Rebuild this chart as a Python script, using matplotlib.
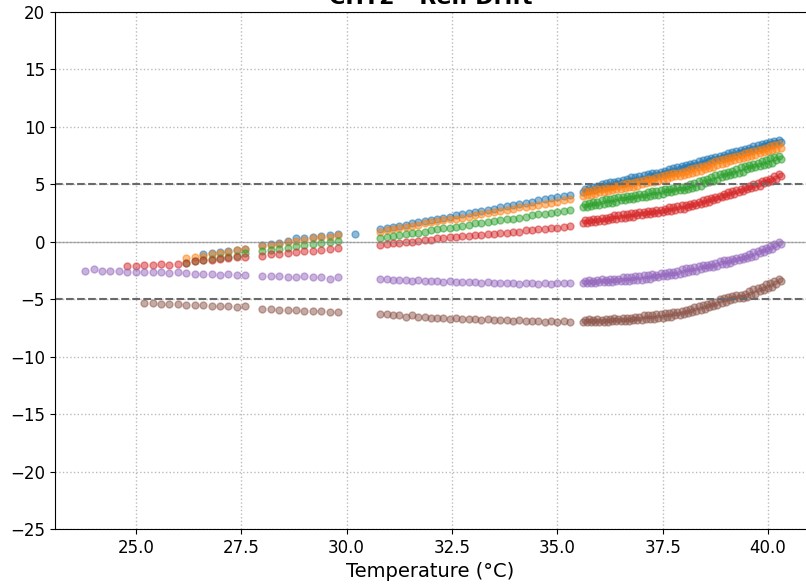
import numpy as np
import matplotlib
matplotlib.use('Agg')
import matplotlib.pyplot as plt

nan = np.nan

# temperatures (deg C): slow ramp, a lone point, then two denser runs
temp_a = [23.8, 24.0, 24.2, 24.4, 24.6, 24.8, 25.0, 25.2, 25.4, 25.6, 25.8, 26.0, 26.2, 26.4, 26.6,
          26.8, 27.0, 27.2, 27.4, 27.6, 28.0, 28.2, 28.4, 28.6, 28.8, 29.0, 29.2, 29.4, 29.6, 29.8]
temp_single = [30.2]
temp_b = [30.8, 30.95, 31.1, 31.25, 31.4, 31.55, 31.7, 31.85, 32.0, 32.15, 32.3, 32.45, 32.6, 32.75,
          32.9, 33.05, 33.2, 33.35, 33.5, 33.65, 33.8, 33.95, 34.1, 34.25, 34.4, 34.55, 34.7, 34.85,
          35.0, 35.15, 35.3]
temp_c = [35.6, 35.7, 35.8, 35.9, 36.0, 36.1, 36.2, 36.3, 36.4, 36.5, 36.6, 36.7, 36.8, 36.9, 37.0,
          37.1, 37.2, 37.3, 37.4, 37.5, 37.6, 37.7, 37.8, 37.9, 38.0, 38.1, 38.2, 38.3, 38.4, 38.5,
          38.6, 38.7, 38.8, 38.9, 39.0, 39.1, 39.2, 39.3, 39.4, 39.5, 39.6, 39.7, 39.8, 39.9, 40.0,
          40.1, 40.2, 40.3]
# interleaved readings of the last run
temp_c2 = [35.65, 35.75, 35.85, 35.95, 36.05, 36.15, 36.25, 36.35, 36.45, 36.55, 36.65, 36.75, 36.85,
           36.95, 37.05, 37.15, 37.25, 37.35, 37.45, 37.55, 37.65, 37.75, 37.85, 37.95, 38.05, 38.15,
           38.25, 38.35, 38.45, 38.55, 38.65, 38.75, 38.85, 38.95, 39.05, 39.15, 39.25, 39.35, 39.45,
           39.55, 39.65, 39.75, 39.85, 39.95, 40.05, 40.15, 40.25]

# drift per channel, split the same way as the temperatures
ch1_a = [nan]*14 + [-1.1, -1.0, -0.9, -0.8, -0.7, -0.6, -0.3, -0.2, -0.1, 0.1, 0.3, 0.3, 0.4, 0.5, 0.6, 0.7]
ch1_s = [0.7]
ch1_b = [1.1, 1.2, 1.3, 1.4, 1.5, 1.6, 1.7, 1.8, 1.9, 2.0, 2.1, 2.2, 2.3, 2.4, 2.5, 2.6, 2.7, 2.8,
         2.9, 3.0, 3.1, 3.2, 3.3, 3.4, 3.5, 3.6, 3.7, 3.8, 3.9, 4.0, 4.1]
ch1_c = [4.3, 4.4, 4.5, 4.5, 4.7, 4.8, 4.9, 4.9, 5.0, 5.1, 5.1, 5.3, 5.3, 5.4, 5.5, 5.5, 5.7, 5.7,
         5.8, 5.9, 6.0, 6.1, 6.2, 6.3, 6.4, 6.5, 6.6, 6.7, 6.8, 6.9, 7.0, 7.1, 7.2, 7.3, 7.4, 7.5,
         7.6, 7.7, 7.8, 7.9, 8.0, 8.1, 8.2, 8.3, 8.4, 8.5, 8.6, 8.7]
ch1_c2 = [4.6, 4.7, 4.8, 4.9, 5.0, 5.1, 5.2, 5.2, 5.3, 5.4, 5.5, 5.6, 5.6, 5.7, 5.8, 5.9, 6.0, 6.0,
          6.1, 6.2, 6.3, 6.4, 6.5, 6.6, 6.7, 6.8, 6.9, 7.0, 7.1, 7.2, 7.3, 7.4, 7.5, 7.6, 7.7, 7.8,
          7.9, 8.0, 8.1, 8.2, 8.3, 8.4, 8.5, 8.6, 8.7, 8.8, 8.9]

ch2_a = [nan]*12 + [-1.4, -1.3, -1.2, -1.1, -1.0, -0.9, -0.7, -0.6, -0.4, -0.3, -0.2, 0.0, 0.1, 0.2,
                    0.3, 0.4, 0.4, 0.6]
ch2_s = [nan]
ch2_b = [0.9, 1.0, 1.1, 1.2, 1.3, 1.4, 1.5, 1.6, 1.7, 1.8, 1.9, 2.0, 2.0, 2.1, 2.2, 2.3, 2.4, 2.5,
         2.6, 2.7, 2.8, 2.9, 3.0, 3.0, 3.1, 3.2, 3.3, 3.4, 3.5, 3.6, 3.7]
ch2_c = [4.0, 4.1, 4.1, 4.2, 4.3, 4.3, 4.4, 4.5, 4.6, 4.6, 4.7, 4.8, 4.8, 4.9, 5.0, 5.1, 5.2, 5.2,
         5.3, 5.4, 5.5, 5.6, 5.7, 5.7, 5.8, 5.9, 6.0, 6.1, 6.2, 6.3, 6.4, 6.5, 6.7, 6.8, 6.9, 7.0,
         7.1, 7.2, 7.3, 7.4, 7.5, 7.6, 7.7, 7.8, 7.9, 8.0, 8.1, 8.2]
ch2_c2 = [4.4, 4.4, 4.5, 4.6, 4.6, 4.7, 4.8, 4.9, 4.9, 5.0, 5.1, 5.1, 5.2, 5.3, 5.4, 5.5, 5.5, 5.6,
          5.7, 5.8, 5.9, 6.0, 6.0, 6.1, 6.2, 6.3, 6.4, 6.5, 6.6, 6.7, 6.9, 7.0, 7.1, 7.2, 7.3, 7.4,
          7.5, 7.6, 7.7, 7.8, 7.9, 8.0, 8.1, 8.2, 8.3, 8.4, 8.5]

ch3_a = [nan]*12 + [-1.8, -1.7, -1.6, -1.5, -1.4, -1.3, -1.2, -1.0, -0.8, -0.7, -0.6, -0.5, -0.4,
                    -0.3, -0.2, -0.1, 0.0, 0.1]
ch3_s = [nan]
ch3_b = [0.3, 0.4, 0.5, 0.6, 0.7, 0.8, 0.8, 0.9, 1.0, 1.1, 1.2, 1.2, 1.3, 1.4, 1.5, 1.6, 1.6, 1.7,
         1.8, 1.9, 2.0, 2.0, 2.1, 2.2, 2.3, 2.4, 2.4, 2.5, 2.6, 2.7, 2.8]
ch3_c = [3.0, 3.0, 3.1, 3.2, 3.2, 3.3, 3.4, 3.4, 3.5, 3.6, 3.6, 3.7, 3.7, 3.8, 3.9, 3.9, 4.0, 4.1,
         4.1, 4.2, 4.3, 4.3, 4.4, 4.5, 4.5, 4.6, 4.7, 4.8, 4.9, 5.1, 5.2, 5.3, 5.4, 5.6, 5.7, 5.8,
         5.9, 6.0, 6.1, 6.3, 6.4, 6.5, 6.6, 6.7, 6.8, 6.9, 7.1, 7.2]
ch3_c2 = [3.3, 3.4, 3.5, 3.5, 3.6, 3.7, 3.7, 3.8, 3.9, 3.9, 4.0, 4.0, 4.1, 4.2, 4.2, 4.3, 4.4, 4.4,
          4.5, 4.6, 4.6, 4.7, 4.8, 4.8, 4.9, 5.0, 5.1, 5.3, 5.4, 5.5, 5.6, 5.8, 5.9, 6.0, 6.1, 6.2,
          6.3, 6.5, 6.6, 6.7, 6.8, 6.9, 7.0, 7.1, 7.3, 7.4, 7.5]

ch4_a = [nan]*5 + [-2.1, -2.1, -2.0, -2.0, -1.9, -2.0, -1.9, -1.8, -1.7, -1.6, -1.6, -1.5, -1.4,
                   -1.3, -1.3, -1.2, -1.1, -1.1, -1.0, -0.9, -0.8, -0.8, -0.7, -0.6, -0.5]
ch4_s = [nan]
ch4_b = [-0.3, -0.2, -0.1, -0.1, 0.0, 0.0, 0.1, 0.2, 0.2, 0.3, 0.3, 0.4, 0.4, 0.5, 0.5, 0.6, 0.6,
         0.7, 0.7, 0.8, 0.8, 0.9, 0.9, 1.0, 1.0, 1.1, 1.1, 1.2, 1.2, 1.3, 1.4]
ch4_c = [1.6, 1.6, 1.7, 1.7, 1.8, 1.8, 1.9, 2.0, 2.0, 2.1, 2.1, 2.2, 2.2, 2.3, 2.3, 2.4, 2.4, 2.5,
         2.5, 2.6, 2.7, 2.7, 2.8, 2.9, 2.9, 3.0, 3.1, 3.2, 3.3, 3.4, 3.5, 3.6, 3.7, 3.9, 4.0, 4.1,
         4.2, 4.3, 4.4, 4.6, 4.7, 4.8, 4.9, 5.1, 5.2, 5.3, 5.5, 5.7]
ch4_c2 = [1.9, 1.9, 2.0, 2.0, 2.1, 2.1, 2.2, 2.3, 2.3, 2.4, 2.4, 2.5, 2.5, 2.6, 2.6, 2.7, 2.7, 2.8,
          2.8, 2.9, 3.0, 3.0, 3.1, 3.2, 3.2, 3.3, 3.4, 3.5, 3.6, 3.7, 3.8, 3.9, 4.0, 4.2, 4.3, 4.4,
          4.5, 4.6, 4.8, 4.9, 5.0, 5.1, 5.3, 5.4, 5.5, 5.7, 5.9]

ch5_a = [-2.5, -2.4, -2.5, -2.5, -2.5, -2.6, -2.6, -2.6, -2.6, -2.6, -2.7, -2.6, -2.7, -2.8, -2.8,
         -2.8, -2.9, -2.8, -2.9, -2.9, -3.0, -3.0, -3.0, -3.1, -3.1, -3.0, -3.1, -3.1, -3.2, -3.1]
ch5_s = [nan]
ch5_b = [-3.2, -3.2, -3.3, -3.3, -3.3, -3.4, -3.3, -3.4, -3.4, -3.4, -3.5, -3.4, -3.5, -3.5, -3.5,
         -3.5, -3.6, -3.5, -3.6, -3.6, -3.6, -3.6, -3.7, -3.6, -3.6, -3.7, -3.6, -3.7, -3.6, -3.6,
         -3.6]
ch5_c = [-3.6, -3.6, -3.6, -3.6, -3.5, -3.5, -3.5, -3.5, -3.4, -3.4, -3.4, -3.4, -3.3, -3.3, -3.3,
         -3.2, -3.2, -3.1, -3.1, -3.0, -3.0, -2.9, -2.9, -2.8, -2.7, -2.6, -2.5, -2.5, -2.4, -2.3,
         -2.2, -2.2, -2.1, -1.9, -1.9, -1.8, -1.7, -1.6, -1.5, -1.4, -1.3, -1.2, -1.0, -0.9, -0.7,
         -0.6, -0.4, -0.2]
ch5_c2 = [-3.4, -3.3, -3.4, -3.3, -3.2, -3.3, -3.2, -3.2, -3.2, -3.1, -3.1, -3.1, -3.0, -3.0, -2.9,
          -2.9, -2.8, -2.9, -2.7, -2.7, -2.6, -2.6, -2.5, -2.4, -2.3, -2.3, -2.2, -2.1, -2.0, -2.0,
          -1.9, -1.8, -1.7, -1.6, -1.6, -1.5, -1.4, -1.3, -1.2, -1.1, -0.9, -0.8, -0.6, -0.5, -0.4,
          -0.2, 0.0]

ch6_a = [nan]*7 + [-5.3, -5.3, -5.4, -5.4, -5.4, -5.5, -5.5, -5.5, -5.6, -5.6, -5.6, -5.7, -5.6,
                   -5.8, -5.8, -5.9, -5.9, -5.9, -6.0, -6.0, -6.0, -6.1, -6.1]
ch6_s = [nan]
ch6_b = [-6.3, -6.3, -6.4, -6.4, -6.5, -6.4, -6.5, -6.5, -6.6, -6.6, -6.6, -6.7, -6.6, -6.7, -6.7,
         -6.7, -6.8, -6.7, -6.8, -6.8, -6.8, -6.9, -6.8, -6.9, -6.9, -6.9, -7.0, -6.9, -7.0, -6.9,
         -7.0]
ch6_c = [-7.0, -7.0, -7.0, -7.0, -7.0, -7.0, -7.0, -6.9, -6.9, -6.9, -6.9, -6.9, -6.8, -6.8, -6.8,
         -6.7, -6.7, -6.7, -6.6, -6.6, -6.5, -6.5, -6.4, -6.4, -6.3, -6.2, -6.1, -6.0, -5.9, -5.8,
         -5.7, -5.6, -5.5, -5.3, -5.2, -5.1, -5.0, -4.9, -4.9, -4.8, -4.6, -4.5, -4.3, -4.2, -4.0,
         -3.9, -3.7, -3.4]
ch6_c2 = [-6.8, -6.7, -6.8, -6.7, -6.8, -6.7, -6.7, -6.6, -6.7, -6.6, -6.6, -6.6, -6.5, -6.5, -6.4,
          -6.4, -6.4, -6.3, -6.3, -6.2, -6.2, -6.1, -6.1, -6.0, -5.9, -5.8, -5.7, -5.6, -5.5, -5.4,
          -5.3, -5.2, -5.0, -4.9, -4.8, -4.7, -4.6, -4.6, -4.5, -4.3, -4.1, -4.0, -3.9, -3.7, -3.6,
          -3.4, -3.2]

temps = np.array(temp_a + temp_single + temp_b + temp_c + temp_c2)
channels = [
    (ch1_a + ch1_s + ch1_b + ch1_c + ch1_c2, 'tab:blue'),
    (ch2_a + ch2_s + ch2_b + ch2_c + ch2_c2, 'tab:orange'),
    (ch3_a + ch3_s + ch3_b + ch3_c + ch3_c2, 'tab:green'),
    (ch4_a + ch4_s + ch4_b + ch4_c + ch4_c2, 'tab:red'),
    (ch5_a + ch5_s + ch5_b + ch5_c + ch5_c2, 'tab:purple'),
    (ch6_a + ch6_s + ch6_b + ch6_c + ch6_c2, 'tab:brown'),
]

fig = plt.figure(figsize=(8.06, 5.86), dpi=100)
ax = fig.add_axes([0.068, 0.097, 0.932, 0.8825])

for drift, col in channels:
    ax.scatter(temps, np.array(drift, dtype=float), s=25, color=col, alpha=0.5)

ax.axhline(0, color='gray', lw=1, alpha=0.6)
ax.axhline(5, color='dimgray', ls='--', lw=1.5)
ax.axhline(-5, color='dimgray', ls='--', lw=1.5)

ax.set_xlim(23.08, 40.9)
ax.set_ylim(-25, 20)
ax.set_xticks([25.0, 27.5, 30.0, 32.5, 35.0, 37.5, 40.0])
ax.set_yticks(np.arange(-25, 21, 5))
ax.grid(True, ls=':', color='#bbbbbb', lw=1)
ax.set_axisbelow(True)
ax.spines['right'].set_visible(False)
ax.tick_params(labelsize=12)
ax.set_xlabel('Temperature (°C)', fontsize=14)
ax.set_title('CHT2 - Rel. Drift', fontsize=16, fontweight='bold')

plt.savefig('out.png', dpi=100)
